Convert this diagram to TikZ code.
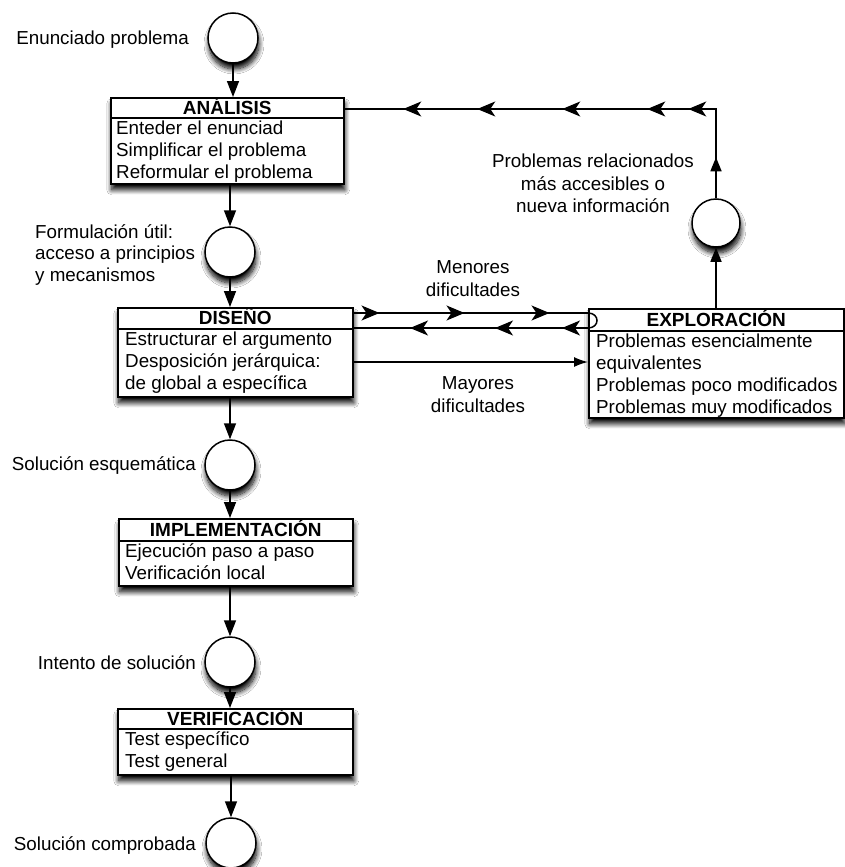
\documentclass[tikz,border=0pt]{standalone}
\usepackage{fontspec}
\setmainfont{Liberation Sans}
\usetikzlibrary{arrows.meta,decorations.markings,shadows.blur,calc}
\newcommand\midtip{\arrow{Stealth[length=18pt,width=15pt,inset=5pt]}}
\newcommand\uptip{\arrow{Triangle[length=14pt,width=11pt]}}
\tikzset{
  myshadow/.style={blur shadow={shadow xshift=1pt,shadow yshift=-6pt,shadow blur radius=5pt,shadow blur steps=10,shadow opacity=100}},
  frame/.style={rectangle,draw=black,line width=1.5pt,fill=white,inner sep=0pt,anchor=north west,myshadow},
  state/.style={circle,draw=black,line width=1.5pt,fill=white,minimum size=50pt,inner sep=0pt,myshadow},
  ttl/.style={font=\fontsize{19}{22}\selectfont\bfseries,text height=13.5pt,text depth=0pt,inner sep=0pt},
  body/.style={font=\fontsize{18.8}{22}\selectfont,align=left,anchor=north west,inner sep=0pt},
  lbl/.style={font=\fontsize{18.8}{22.5}\selectfont,inner sep=0pt},
  sepline/.style={line width=1.2pt},
  conn/.style={line width=1.5pt},
  down/.style={conn,-{Triangle[length=16pt,width=12pt]}},
}
\begin{document}
\begin{tikzpicture}[x=1pt,y=-1pt]
\useasboundingbox[fill=white] (0,0) rectangle (845,867);

% boxes
\node[frame,minimum width=233,minimum height=86] (ana) at (110,97) {};
\node[frame,minimum width=235,minimum height=89] (dis) at (117,307) {};
\node[frame,minimum width=255,minimum height=109] (exp) at (588,308) {};
\node[frame,minimum width=234,minimum height=67] (imp) at (118,518) {};
\node[frame,minimum width=235,minimum height=66] (ver) at (117,708) {};

% circles
\node[state] (c1) at (233,38) {};
\node[state] (c2) at (230,252) {};
\node[state] (c3) at (230,465) {};
\node[state] (c4) at (230,662) {};
\node[state] (c5) at (231,843) {};
\node[state,minimum size=48pt] (c6) at (716,223) {};

% separators
\draw[sepline] ($(ana.north west)+(0,21)$) -- ($(ana.north east)+(0,21)$);
\draw[sepline] ($(dis.north west)+(0,22)$) -- ($(dis.north east)+(0,22)$);
\draw[sepline] ($(exp.north west)+(0,23)$) -- ($(exp.north east)+(0,23)$);
\draw[sepline] ($(imp.north west)+(0,23)$) -- ($(imp.north east)+(0,23)$);
\draw[sepline] ($(ver.north west)+(0,21)$) -- ($(ver.north east)+(0,21)$);

% titles
\node[ttl] (anaT) at ($(ana.north)+(0,10.5)$) {ANÁLISIS};
\node[ttl] (disT) at ($(dis.north)+(0,11)$) {DISEÑO};
\node[ttl] (expT) at ($(exp.north)+(0,11.5)$) {EXPLORACIÓN};
\node[ttl] (impT) at ($(imp.north)+(0,11.5)$) {IMPLEMENTACIÓN};
\node[ttl] (verT) at ($(ver.north)+(0,10.5)$) {VERIFICACIÓN};

% bodies
\node[body] (anaB) at ($(ana.north west)+(6,22)$) {\strut Enteder el enunciad\\Simplificar el problema\\Reformular el problema};
\node[body] (disB) at ($(dis.north west)+(8,23)$) {\strut Estructurar el argumento\\Desposición jerárquica:\\de global a específica};
\node[body] (expB) at ($(exp.north west)+(8,24)$) {\strut Problemas esencialmente\\equivalentes\\Problemas poco modificados\\Problemas muy modificados};
\node[body] (impB) at ($(imp.north west)+(7,24)$) {\strut Ejecución paso a paso\\Verificación local};
\node[body] (verB) at ($(ver.north west)+(8,22)$) {\strut Test específico\\Test general};

% labels
\node[lbl,anchor=base east] (l1) at (189,45) {Enunciado problema};
\node[lbl,anchor=north west,align=left,font=\fontsize{18.8}{21.5}\selectfont] (l2) at (35,223) {\strut Formulación útil:\\acceso a principios\\y mecanismos};
\node[lbl,anchor=base east] (l3) at (196,470) {Solución esquemática};
\node[lbl,anchor=base east] (l4) at (196,669) {Intento de solución};
\node[lbl,anchor=base east] (l5) at (196,850) {Solución comprobada};
\node[lbl,anchor=north,align=center] (l6) at (593,152) {\strut Problemas relacionados\\más accesibles o\\nueva información};
\node[lbl,anchor=north,align=center] (l7) at (473,258) {\strut Menores\\dificultades};
\node[lbl,anchor=north,align=center] (l8) at (478,374) {\strut Mayores\\dificultades};

% main vertical flow
\draw[down] (c1.south) -- (c1.south |- ana.north);
\draw[down] (c2.north |- ana.south) -- (c2.north);
\draw[down] (c2.south) -- (c2.south |- dis.north);
\draw[down] (c3.north |- dis.south) -- (c3.north);
\draw[down] (c3.south) -- (c3.south |- imp.north);
\draw[down] (c4.north |- imp.south) -- (c4.north);
\draw[down] (c4.south) -- (c4.south |- ver.north);
\draw[down] (c5.north |- ver.south) -- (c5.north);

% exploration feedback
\coordinate (y109) at (0,109);
\coordinate (m1) at (0,313);
\coordinate (m2) at (0,328);
\coordinate (m3) at (0,362);
\draw[conn,-{Triangle[length=14pt,width=11pt]}] (c6.south |- exp.north) -- (c6.south);
\draw[conn,decoration={markings,
    mark=at position 41pt with {\uptip},
    mark=at position 117pt with {\midtip},
    mark=at position 158pt with {\midtip},
    mark=at position 243pt with {\midtip},
    mark=at position 328pt with {\midtip},
    mark=at position 402pt with {\midtip}},postaction={decorate}]
  (c6.north) -- (c6.north |- y109) coordinate (corner) -- (ana.east |- y109);

% menores dificultades
\draw[conn,decoration={markings,
    mark=at position 26pt with {\midtip},
    mark=at position 111pt with {\midtip},
    mark=at position 196pt with {\midtip}},postaction={decorate}]
  (dis.east |- m1) -- (exp.west |- m1);
\draw[conn] (exp.west |- m1) .. controls +(12,0) and +(12,0) .. (exp.west |- m2);
\draw[conn,decoration={markings,
    mark=at position 26pt with {\midtip},
    mark=at position 93pt with {\midtip},
    mark=at position 178pt with {\midtip}},postaction={decorate}]
  (exp.west |- m2) -- (dis.east |- m2);

% mayores dificultades
\draw[conn,-{Latex[length=14pt,width=10pt]}] (dis.east |- m3) -- (exp.west |- m3);
\end{tikzpicture}
\end{document}
